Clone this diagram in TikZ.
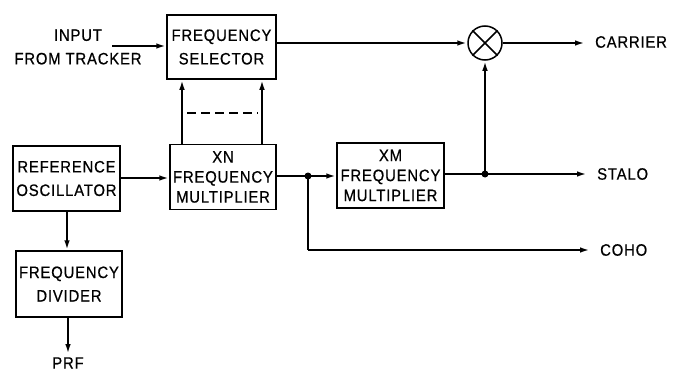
\documentclass[tikz,border=0pt]{standalone}
\usepackage{fontspec}
\setmainfont{Liberation Sans}[FakeStretch=0.9,FakeBold=0.6,LetterSpace=5]
\usetikzlibrary{arrows.meta}
\begin{document}
\begin{tikzpicture}[x=1pt,y=-1pt,
  box/.style={draw,line width=1.5pt,align=center,inner sep=0pt,font=\fontsize{16.5}{23.5}\selectfont},
  box3/.style={box,font=\fontsize{16.5}{20}\selectfont},
  lbl/.style={font=\fontsize{16.5}{23.5}\selectfont,inner sep=0pt},
  conn/.style={line width=2pt,-{Latex[length=10pt,width=5.5pt]}},
  wire/.style={line width=2pt},
  dot/.style={circle,fill,inner sep=0pt,minimum size=7pt}]
\useasboundingbox (0,0) rectangle (676,372);
\node[box,minimum width=109pt,minimum height=64pt] (sel) at (221.5,47) {FREQUENCY\\SELECTOR};
\node[box3,minimum width=106pt,minimum height=65pt] (xn) at (223,177) {XN\\FREQUENCY\\MULTIPLIER};
\node[box,minimum width=107pt,minimum height=65pt] (ref) at (66.5,178.5) {REFERENCE\\OSCILLATOR};
\node[box3,minimum width=107pt,minimum height=65pt] (xm) at (390.5,175.5) {XM\\FREQUENCY\\MULTIPLIER};
\node[box,minimum width=106pt,minimum height=66pt] (div) at (69,284) {FREQUENCY\\DIVIDER};
\node[draw,circle,line width=1.5pt,minimum size=34pt,inner sep=0pt] (mix) at (485,43) {};
\draw[line width=1.5pt] (mix.north west) -- (mix.south east) (mix.north east) -- (mix.south west);
\node[lbl,align=center] (inp) at (78,47) {INPUT\\FROM TRACKER};
\node[lbl,anchor=west] (car) at (595,42) {CARRIER};
\node[lbl,anchor=west] (sta) at (597,174) {STALO};
\node[lbl,anchor=west] (coh) at (600,250) {COHO};
\node[lbl] (prf) at (68,363) {PRF};
\coordinate (inS) at (112,46);
\draw[conn] (inS) -- (inS -| sel.west);
\draw[conn] (mix.west -| sel.east) -- (mix.west);
\draw[conn] (mix.east) -- (585,43) coordinate (carE);
% vertical arrows XN -> selector
\coordinate (v1) at (182,0);
\coordinate (v2) at (262,0);
\draw[conn] (v1 |- xn.north) -- (v1 |- sel.south);
\draw[conn] (v2 |- xn.north) -- (v2 |- sel.south);
\draw[wire,dash pattern=on 9pt off 5pt] (187,113) coordinate (d1) -- (258,113) coordinate (d2);
% ref -> xn
\draw[conn] (ref.east |- 0,178) -- (xn.west |- 0,178);
% xn -> xm with dot
\coordinate (j1) at (308,176);
\draw[wire] (xn.east |- j1) -- (j1);
\draw[conn] (j1) -- (j1 -| xm.west);
\node[dot] (jd1) at (j1) {};
\draw[wire] (j1) -- (308,250) coordinate (c1);
\draw[conn] (c1) -- (590,250);
% xm -> stalo
\coordinate (j2) at (485,174);
\draw[wire] (xm.east |- j2) -- (j2);
\draw[conn] (j2) -- (587,174);
\node[dot] (jd2) at (j2) {};
\draw[conn] (j2) -- (mix.south);
% ref -> div -> prf
\draw[conn] (67,0 |- ref.south) -- (67,0 |- div.north);
\draw[conn] (68,0 |- div.south) -- (68,354);
\end{tikzpicture}
\end{document}
